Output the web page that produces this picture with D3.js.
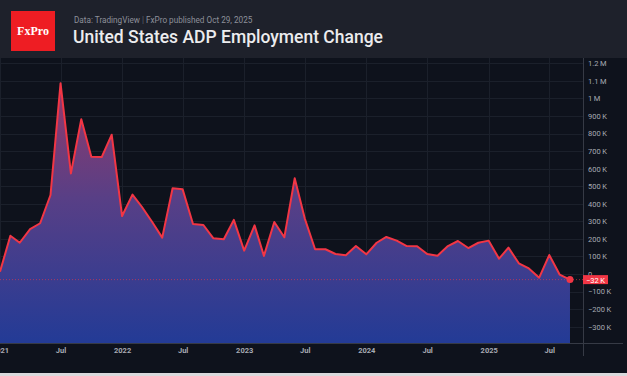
<!DOCTYPE html>
<html>
<head>
<meta charset="utf-8">
<script src="https://cdn.jsdelivr.net/npm/d3@7"></script>
<style>
  html, body { margin: 0; padding: 0; background: #0e121c; }
  svg { display: block; }
</style>
</head>
<body>
<div id="chart"></div>
<script>
// ADP monthly change, thousands, Jan 2021 .. Sep 2025
const months = d3.timeMonths(new Date(2021, 0, 1), new Date(2025, 9, 1));
const values = [
  13, 218, 178, 256, 289, 450, 1086, 573, 881, 668, 666, 793,
  330, 452, 383, 296, 207, 488, 482, 285, 279, 203, 198, 308,
  133, 277, 103, 296, 209, 545, 317, 141, 141, 114, 107, 159,
  112, 178, 211, 190, 159, 158, 114, 104, 159, 188, 148, 178,
  190, 87, 150, 61, 32, -21, 108, -3, -32
];
const yTicks = [-300, -200, -100, 0, 100, 200, 300, 400, 500, 600, 700, 800, 900, 1000, 1100, 1200];
const xTicks = [
  new Date(2021, 0, 1), new Date(2021, 6, 1), new Date(2022, 0, 1), new Date(2022, 6, 1),
  new Date(2023, 0, 1), new Date(2023, 6, 1), new Date(2024, 0, 1), new Date(2024, 6, 1),
  new Date(2025, 0, 1), new Date(2025, 6, 1)
];

const W = 627, H = 376;
const headerH = 58, plotRight = 583, plotBottom = 343;

const data = months.map((m, i) => ({ date: m, value: values[i] }));

const svg = d3.select("#chart").append("svg")
  .attr("width", W).attr("height", H)
  .style("font-family", "Roboto, 'Noto Sans', sans-serif");

const defs = svg.append("defs");
const grad = defs.append("linearGradient")
  .attr("id", "fillGrad")
  .attr("gradientUnits", "userSpaceOnUse")
  .attr("x1", 0).attr("x2", 0).attr("y1", 80).attr("y2", plotBottom);
grad.append("stop").attr("offset", "0%").attr("stop-color", "#953a69");
grad.append("stop").attr("offset", "45%").attr("stop-color", "#583f86");
grad.append("stop").attr("offset", "100%").attr("stop-color", "#233b96");

defs.append("clipPath").attr("id", "plotClip")
  .append("rect").attr("x", 0).attr("y", headerH).attr("width", plotRight).attr("height", plotBottom - headerH);

// backgrounds
svg.append("rect").attr("width", W).attr("height", H).attr("fill", "#0e121c");
svg.append("rect").attr("width", W).attr("height", headerH).attr("fill", "#1e212b");
svg.append("rect").attr("y", 373).attr("width", W).attr("height", 3).attr("fill", "#d9d9dc");

// header
svg.append("rect").attr("x", 11).attr("y", 11).attr("width", 44).attr("height", 40).attr("fill", "#ee1d23");
svg.append("text").attr("x", 33).attr("y", 35).attr("text-anchor", "middle")
  .attr("fill", "#fff").style("font-family", "'Liberation Serif', 'DejaVu Serif', serif")
  .style("font-size", "12px").style("font-weight", "bold").text("FxPro");

const sub = svg.append("text").attr("x", 74).attr("y", 23)
  .attr("fill", "#8d909a").style("font-size", "8.2px");
sub.append("tspan").text("Data: TradingView ");
sub.append("tspan").attr("fill", "#5d606a").text("|");
sub.append("tspan").text(" FxPro published Oct 29,  2025");

svg.append("text").attr("x", 73).attr("y", 43)
  .attr("fill", "#ececee").style("font-size", "17.5px").style("font-weight", 500)
  .text("United States ADP Employment Change");

// scales
const x = d3.scaleTime()
  .domain([new Date(2021, 0, 1), new Date(2025, 0, 1)])
  .range([0, 488.7]);
const y = d3.scaleLinear()
  .domain([0, 1200])
  .range([274, 63.3]);

// gridlines
const grid = svg.append("g").attr("stroke", "#1b202b").attr("stroke-width", 1);
grid.selectAll(".hg").data(yTicks).join("line")
  .attr("x1", 0).attr("x2", plotRight)
  .attr("y1", d => Math.round(y(d)) + 0.5).attr("y2", d => Math.round(y(d)) + 0.5);
grid.selectAll(".vg").data(xTicks).join("line")
  .attr("y1", headerH).attr("y2", plotBottom)
  .attr("x1", d => Math.round(x(d)) + 0.5).attr("x2", d => Math.round(x(d)) + 0.5);

// area and line
const plot = svg.append("g").attr("clip-path", "url(#plotClip)");
const area = d3.area()
  .x(d => x(d.date))
  .y0(plotBottom)
  .y1(d => y(d.value));
const line = d3.line()
  .x(d => x(d.date))
  .y(d => y(d.value));

plot.append("path").datum(data).attr("d", area).attr("fill", "url(#fillGrad)");

const last = data[data.length - 1];
plot.append("line")
  .attr("x1", 0).attr("x2", plotRight)
  .attr("y1", y(last.value)).attr("y2", y(last.value))
  .attr("stroke", "#f23645").attr("stroke-opacity", 0.6)
  .attr("stroke-width", 1).attr("stroke-dasharray", "1,2");

plot.append("path").datum(data).attr("d", line)
  .attr("fill", "none").attr("stroke", "#f23645").attr("stroke-width", 2)
  .attr("stroke-linejoin", "round");

plot.append("circle").attr("cx", x(last.date)).attr("cy", y(last.value)).attr("r", 3.5).attr("fill", "#f23645");

// axis lines
svg.append("line").attr("x1", 0).attr("x2", 623).attr("y1", plotBottom + 0.5).attr("y2", plotBottom + 0.5)
  .attr("stroke", "#363a45");
svg.append("line").attr("x1", plotRight + 0.5).attr("x2", plotRight + 0.5).attr("y1", headerH).attr("y2", 356)
  .attr("stroke", "#363a45");

// y axis labels
const fmtY = v => {
  if (Math.abs(v) >= 1000) return d3.format("~")(v / 1000) + "\u2009M";
  if (v === 0) return "0";
  return (v < 0 ? "\u2212" + Math.abs(v) : v) + "\u2009K";
};
const yAxis = d3.axisRight(y).tickValues(yTicks).tickSize(0).tickPadding(5).tickFormat(fmtY);
const ya = svg.append("g").attr("transform", `translate(${plotRight},0)`).call(yAxis);
ya.select(".domain").remove();
ya.selectAll("text").attr("fill", "#a7aab3").style("font-size", "7.5px")
  .style("font-family", "Roboto, 'Noto Sans', sans-serif");

// last value tag
svg.append("rect").attr("x", plotRight).attr("y", y(last.value) - 4.5)
  .attr("width", 25).attr("height", 9).attr("fill", "#f23645");
svg.append("text").attr("x", plotRight + 12.5).attr("y", y(last.value) + 3)
  .attr("text-anchor", "middle").attr("fill", "#fff").style("font-size", "7.5px")
  .text("\u2212" + Math.abs(last.value) + "\u2009K");

// x axis labels
const fmtX = d => d.getMonth() === 0 ? d3.timeFormat("%Y")(d) : d3.timeFormat("%b")(d);
const xAxis = d3.axisBottom(x).tickValues(xTicks).tickSize(0).tickPadding(5).tickFormat(fmtX);
const xa = svg.append("g").attr("transform", `translate(0,${plotBottom})`).call(xAxis);
xa.select(".domain").remove();
xa.selectAll("text").attr("fill", "#a7aab3").style("font-size", "7.5px").style("font-weight", "bold")
  .style("font-family", "Roboto, 'Noto Sans', sans-serif");
</script>
</body>
</html>
